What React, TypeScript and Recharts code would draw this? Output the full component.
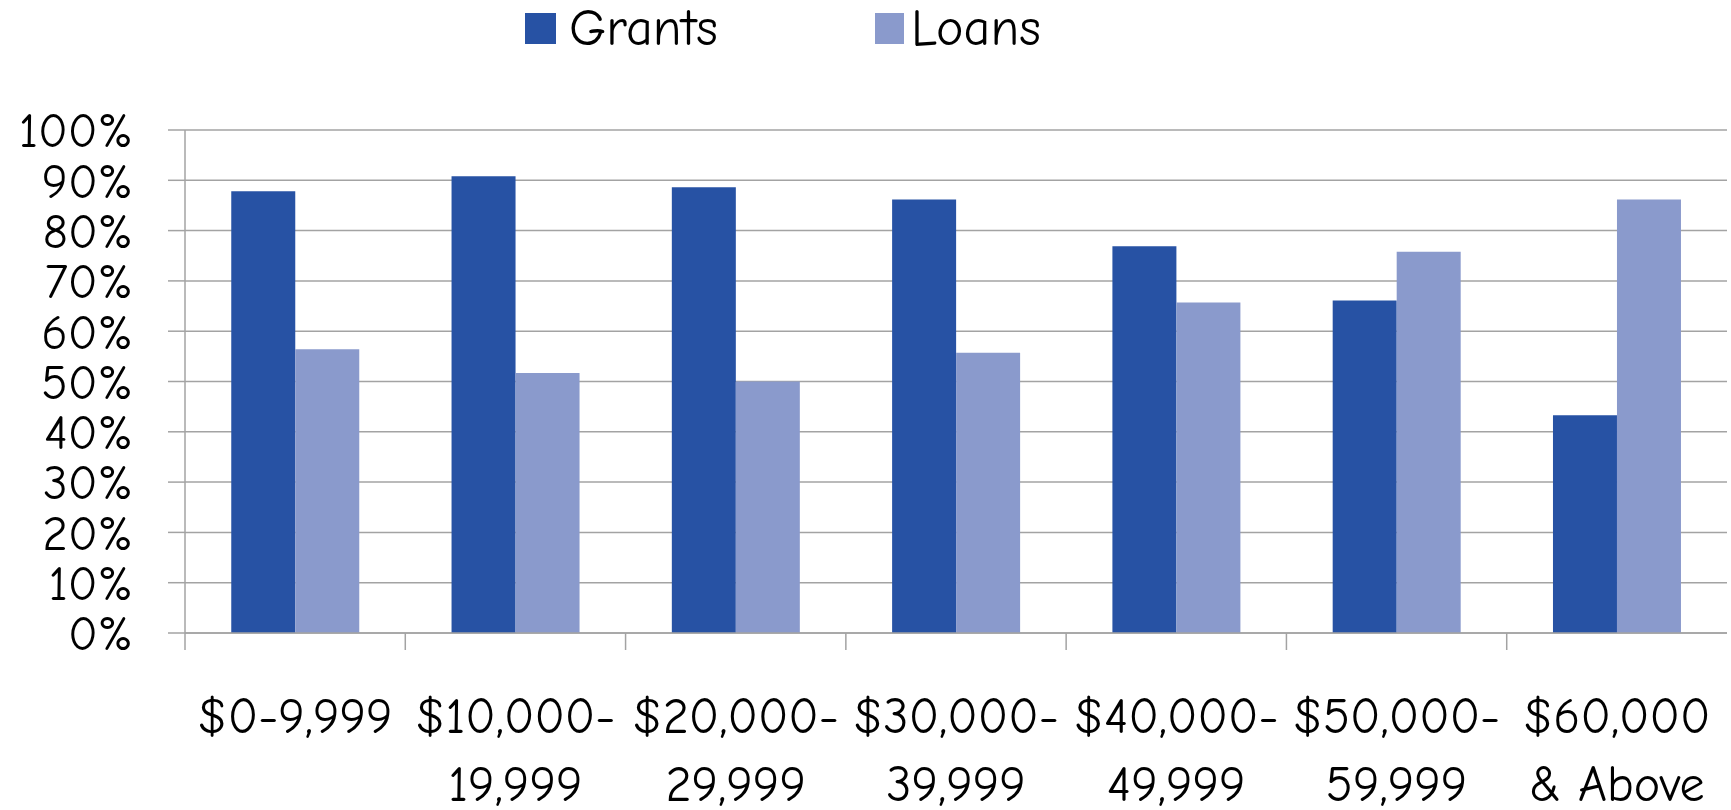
import { Bar, BarChart, CartesianGrid, Legend, XAxis, YAxis } from "recharts";

// #region Sample data
const categories = [
  "$0-9,999",
  "$10,000-19,999",
  "$20,000-29,999",
  "$30,000-39,999",
  "$40,000-49,999",
  "$50,000-59,999",
  "$60,000 & Above",
];

const tickLines = [
  ["$0-9,999"],
  ["$10,000-", "19,999"],
  ["$20,000-", "29,999"],
  ["$30,000-", "39,999"],
  ["$40,000-", "49,999"],
  ["$50,000-", "59,999"],
  ["$60,000", "& Above"],
];

const grants = [87.8, 90.8, 88.6, 86.2, 76.9, 66.1, 43.3];
const loans = [56.4, 51.7, 50.0, 55.7, 65.7, 75.8, 86.2];

const yTicks = [0, 10, 20, 30, 40, 50, 60, 70, 80, 90, 100];

const data = categories.map((name, i) => ({
  name,
  Grants: grants[i],
  Loans: loans[i],
}));
// #endregion

const WIDTH = 1731;
const HEIGHT = 810;
const Y_AXIS_W = 185;
const RIGHT = 4;
const LEGEND_H = 60;
const BAND = (WIDTH - Y_AXIS_W - RIGHT) / categories.length;

const FONT = '"Comic Sans MS", "Comic Neue", "Noto Sans", sans-serif';
const GRID = "#a3a3a3";
const DARK = "#2752a4";
const LIGHT = "#8a9acc";

const CategoryTick = ({ x, y, index }: any) => {
  const lines = tickLines[index] || [];
  const left = x - BAND / 2;
  return (
    <g>
      <line x1={left} y1={y} x2={left} y2={y + 17} stroke={GRID} strokeWidth={1.5} />
      {lines.map((line, i) => (
        <text
          key={i}
          x={x}
          y={y + 100 + i * 68}
          textAnchor="middle"
          fontSize={50}
          fontFamily={FONT}
          fill="#000"
        >
          {line}
        </text>
      ))}
    </g>
  );
};

const LegendContent = () => (
  <div style={{ position: "relative", height: LEGEND_H, fontFamily: FONT, fontSize: 52 }}>
    <span style={{ position: "absolute", left: 525, top: 13, width: 31, height: 31, background: DARK }} />
    <span style={{ position: "absolute", left: 569, top: 0, lineHeight: "56px" }}>Grants</span>
    <span style={{ position: "absolute", left: 875, top: 13, width: 29, height: 31, background: LIGHT }} />
    <span style={{ position: "absolute", left: 911, top: 0, lineHeight: "56px" }}>Loans</span>
  </div>
);

const App = () => (
  <div style={{ position: "absolute", left: 0, top: 0, background: "#fff" }}>
    <BarChart
      width={WIDTH}
      height={HEIGHT}
      data={data}
      margin={{ top: 130 - LEGEND_H, right: RIGHT, left: 0, bottom: 0 }}
      barCategoryGap="21%"
      barGap={0}
    >
      <CartesianGrid vertical={false} stroke={GRID} strokeWidth={1.5} />
      <XAxis
        dataKey="name"
        height={HEIGHT - 633}
        axisLine={{ stroke: GRID, strokeWidth: 1.5 }}
        tickLine={false}
        tickSize={0}
        tickMargin={0}
        interval={0}
        tick={<CategoryTick />}
      />
      <YAxis
        width={Y_AXIS_W}
        domain={[0, 100]}
        ticks={yTicks}
        interval={0}
        tickFormatter={(v) => `${v}%`}
        axisLine={{ stroke: GRID, strokeWidth: 1.5 }}
        tickLine={{ stroke: GRID, strokeWidth: 1.5 }}
        tickSize={17}
        tickMargin={35}
        tick={{ fill: "#000", fontSize: 49, fontFamily: FONT }}
      />
      <Legend
        verticalAlign="top"
        height={LEGEND_H}
        wrapperStyle={{ top: 0, left: 0, width: WIDTH }}
        content={<LegendContent />}
      />
      <Bar dataKey="Grants" fill={DARK} isAnimationActive={false} />
      <Bar dataKey="Loans" fill={LIGHT} isAnimationActive={false} />
    </BarChart>
  </div>
);

export default App;
